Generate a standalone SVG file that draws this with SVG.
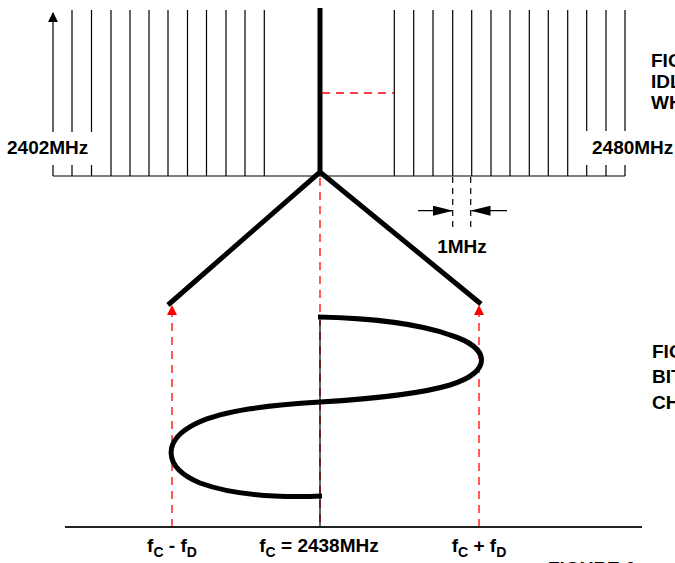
<svg xmlns="http://www.w3.org/2000/svg" width="675" height="563" viewBox="0 0 675 563">
<style>
.thin{stroke:#000;stroke-width:1.2;fill:none}
.thick{stroke:#000;stroke-width:5;fill:none}
.red{stroke:#f00;stroke-width:1.3;stroke-dasharray:8,6;fill:none}
.dim{stroke:#000;stroke-width:1.2;stroke-dasharray:6,5;fill:none}
.lbl{font-family:"Liberation Sans",Arial,sans-serif;font-weight:bold;font-size:19px;fill:#000}
.sub{font-size:14px}
</style>
<defs>
<marker id="ah" markerWidth="10" markerHeight="10" refX="9" refY="5" orient="auto" markerUnits="userSpaceOnUse"><path d="M0,0 L10,5 L0,10 Z" fill="#000"/></marker>
<marker id="ahBig" markerWidth="20" markerHeight="10" refX="19" refY="5" orient="auto" markerUnits="userSpaceOnUse"><path d="M0,0 L20,5 L0,10 Z" fill="#000"/></marker>
<marker id="ahRed" markerWidth="10" markerHeight="10" refX="9" refY="5" orient="auto" markerUnits="userSpaceOnUse"><path d="M0,0 L10,5 L0,10 Z" fill="#f00"/></marker>
</defs>

<g id="spectrum">
<path class="thin" d="M53,176 H625"/>
<path class="thin" d="M53,176 V165 M53,132 V13" marker-end="url(#ah)"/>
<path class="thin" d="M72,176 V165 M72,132 V10 M91.5,176 V165 M91.5,132 V10"/>
<path class="thin" d="M111,176 V10 M130,176 V10 M149,176 V10 M168,176 V10 M187.5,176 V10 M206.5,176 V10 M226,176 V10 M245,176 V10 M264.3,176 V10"/>
<path class="thin" d="M394.3,176 V10 M413.7,176 V10 M433,176 V10 M452.7,176 V10 M471.7,176 V10 M491,176 V10 M510,176 V10 M529.3,176 V10 M548.3,176 V10 M567.7,176 V10"/>
<path class="thin" d="M586.7,176 V165 M586.7,131 V10 M606,176 V165 M606,131 V10 M625,176 V165 M625,131 V10"/>
<text class="lbl" x="7" y="154">2402MHz</text>
<text class="lbl" x="592" y="154">2480MHz</text>
</g>

<g id="carrier">
<path class="thick" d="M320,8 V174"/>
<path class="red" d="M322,93 H394"/>
</g>

<g id="dimension">
<path class="dim" d="M452.7,177 V228 M470.7,177 V228"/>
<path class="thin" d="M418,210.7 H452" marker-end="url(#ahBig)"/>
<path class="thin" d="M507,210.7 H471.5" marker-end="url(#ahBig)"/>
<text class="lbl" x="462" y="253" text-anchor="middle">1MHz</text>
</g>

<g id="connectors">
<path class="thick" d="M168,305 L320,172 L481,304"/>
<path class="red" d="M320,178 V527"/>
<path class="red" d="M172,527 V306" marker-end="url(#ahRed)"/>
<path class="red" d="M479,527 V306" marker-end="url(#ahRed)"/>
</g>

<g id="fsk">
<path class="thin" d="M320,320 V527"/>
<path class="thick" d="M318,317 C370,318 420,324 450,335 C492,348 492,372 450,385 C420,394 370,399 320,402 C270,405 225,410 197,423 C162,440 162,467 200,483 C230,494 275,498 322,496"/>
<path d="M65,527 H642" stroke="#222" stroke-width="2"/>
</g>

<g id="labels">
<text class="lbl" x="172" y="552" text-anchor="middle">f<tspan class="sub" dy="5">C</tspan><tspan dy="-5"> - f</tspan><tspan class="sub" dy="5">D</tspan></text>
<text class="lbl" x="319" y="552" text-anchor="middle">f<tspan class="sub" dy="5">C</tspan><tspan dy="-5"> = 2438MHz</tspan></text>
<text class="lbl" x="479" y="552" text-anchor="middle">f<tspan class="sub" dy="5">C</tspan><tspan dy="-5"> + f</tspan><tspan class="sub" dy="5">D</tspan></text>
<text class="lbl" x="651" y="67">FIGURE</text>
<text class="lbl" x="651" y="88">IDLE</text>
<text class="lbl" x="651" y="109">WHEN</text>
<text class="lbl" x="652" y="358">FIGURE</text>
<text class="lbl" x="652" y="383">BIT</text>
<text class="lbl" x="652" y="409">CHANGE</text>
<text class="lbl" x="548" y="574.5">FIGURE 6</text>
</g>
</svg>
